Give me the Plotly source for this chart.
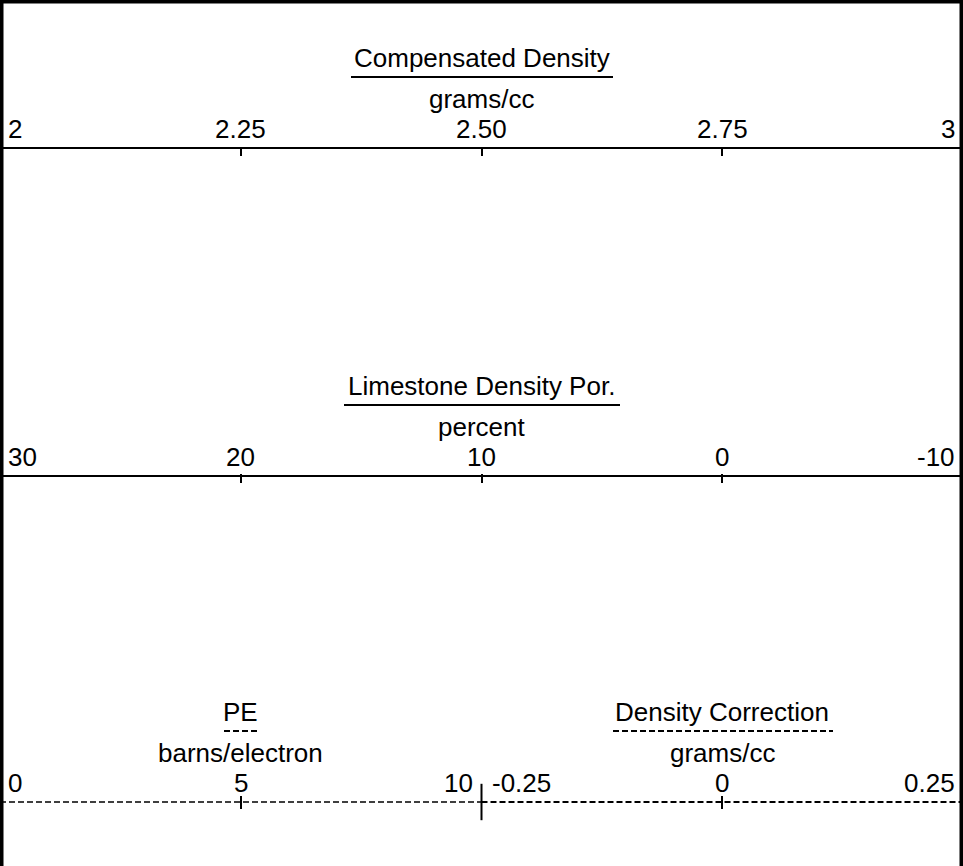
import plotly.graph_objects as go

FIG_W, FIG_H = 963, 866
FONT = "Liberation Sans, Arial, sans-serif"
FONT_SIZE = 26

# Track scales as printed on the log header
density_ticks = [2, 2.25, 2.5, 2.75, 3]
density_labels = ["2", "2.25", "2.50", "2.75", "3"]
porosity_ticks = [30, 20, 10, 0, -10]
porosity_labels = ["30", "20", "10", "0", "-10"]
pe_ticks = [0, 5, 10]
pe_labels = ["0", "5", "10"]
dc_ticks = [-0.25, 0, 0.25]
dc_labels = ["-0.25", "0", "0.25"]

curve_names = ["Compensated Density", "Limestone Density Por.", "PE", "Density Correction"]
curve_units = ["grams/cc", "percent", "barns/electron", "grams/cc"]


def paper_y(pix):
    """Pixel row (from top) -> paper fraction."""
    return 1 - pix / FIG_H


# one entry per scale: axis, domain, baseline row, line style, underline span, tick top/len
tracks = [
    dict(axis="x", ticks=density_ticks, labels=density_labels, domain=[0, 1], row=148,
         dash="solid", width=2, under=(351, 613), tick_top=148, tick_len=7),
    dict(axis="x2", ticks=porosity_ticks, labels=porosity_labels, domain=[0, 1], row=476,
         dash="solid", width=2, under=(344, 620), tick_top=473, tick_len=9),
    dict(axis="x3", ticks=pe_ticks, labels=pe_labels, domain=[0, 0.5], row=802,
         dash="6px,3px", width=1.5, under=(224, 258), tick_top=795, tick_len=13),
    dict(axis="x4", ticks=dc_ticks, labels=dc_labels, domain=[0.5, 1], row=802,
         dash="6px,3px", width=2, under=(613, 833), tick_top=795, tick_len=13),
]

fig = go.Figure()
annotations = []
shapes = []
axis_layout = {}

for i, tr in enumerate(tracks):
    ax = tr["axis"]
    ticks = tr["ticks"]
    # baseline of the scale
    fig.add_trace(go.Scatter(
        x=[ticks[0], ticks[-1]], y=[tr["row"], tr["row"]],
        xaxis=ax, yaxis="y", mode="lines", hoverinfo="skip",
        line=dict(color="black", width=tr["width"], dash=tr["dash"]),
    ))
    key = "xaxis" if ax == "x" else "xaxis" + ax[1:]
    axis_layout[key] = dict(
        range=[ticks[0], ticks[-1]], domain=tr["domain"], anchor="free",
        position=paper_y(tr["tick_top"]), side="top",
        showline=False, showgrid=False, zeroline=False,
        tickvals=ticks[1:-1], ticks="inside", ticklen=tr["tick_len"],
        tickwidth=1.5, tickcolor="black", showticklabels=False, fixedrange=True,
    )
    if ax == "x2":
        axis_layout[key]["overlaying"] = "x"

    row = tr["row"]
    mid = (ticks[0] + ticks[-1]) / 2
    font = dict(family=FONT, size=FONT_SIZE, color="black")
    annotations.append(dict(text=curve_names[i], x=mid, xref=ax, y=row - 90, yref="y",
                            showarrow=False, xanchor="center", yanchor="middle", font=font))
    annotations.append(dict(text=curve_units[i], x=mid, xref=ax, y=row - 49, yref="y",
                            showarrow=False, xanchor="center", yanchor="middle", font=font))
    for j, (v, lab) in enumerate(zip(ticks, tr["labels"])):
        if j == 0:
            anchor, shift = "left", 6 if ax != "x4" else 8
        elif j == len(ticks) - 1:
            anchor, shift = "right", -6 if ax != "x3" else -7
        else:
            anchor, shift = "center", 0
        annotations.append(dict(text=lab, x=v, xref=ax, y=row - 19, yref="y",
                                showarrow=False, xanchor=anchor, xshift=shift,
                                yanchor="middle", font=font))

    # curve-style underline beneath the title
    x0, x1 = tr["under"]
    shapes.append(dict(type="line", xref="paper", yref="y",
                       x0=x0 / FIG_W, x1=x1 / FIG_W, y0=row - 71, y1=row - 71,
                       line=dict(color="black", width=2, dash=tr["dash"])))

# long divider tick between the PE and density-correction scales
fig.add_trace(go.Scatter(
    x=[pe_ticks[-1]], y=[802], xaxis="x3", yaxis="y", mode="markers",
    cliponaxis=False, hoverinfo="skip",
    marker=dict(symbol="line-ns", size=26, line=dict(color="black", width=2)),
))

# track frame: left, right and top edges
for x0, y0, x1, y1 in [(0, 0, 0, 1), (1, 0, 1, 1), (0, 1, 1, 1)]:
    shapes.append(dict(type="line", xref="paper", yref="paper",
                       x0=x0, y0=y0, x1=x1, y1=y1, line=dict(color="black", width=7)))

fig.update_layout(
    width=FIG_W, height=FIG_H,
    margin=dict(l=0, r=0, t=0, b=0),
    paper_bgcolor="white", plot_bgcolor="rgba(0,0,0,0)",
    showlegend=False,
    yaxis=dict(range=[FIG_H, 0], domain=[0, 1], visible=False, fixedrange=True),
    annotations=annotations, shapes=shapes,
    **axis_layout,
)

fig.write_html("out.html", config={"displayModeBar": False},
               post_script="document.body.style.margin='0';")
